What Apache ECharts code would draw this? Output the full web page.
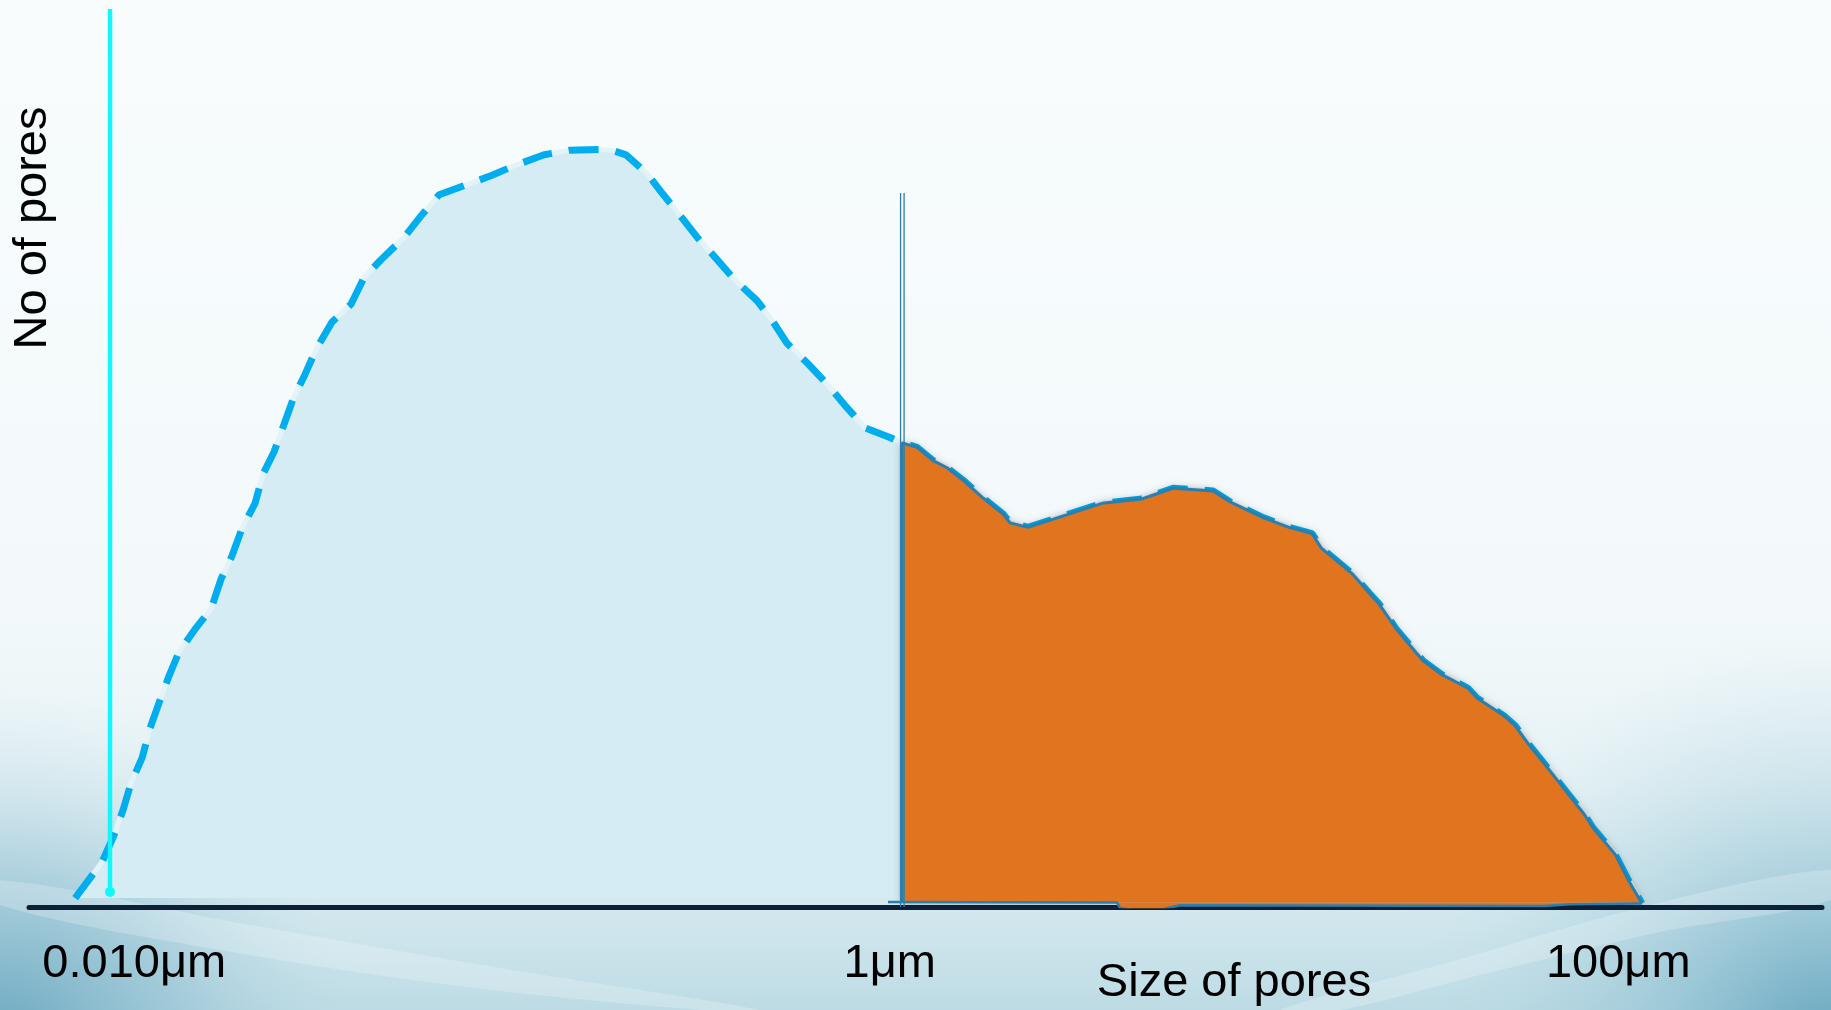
<!DOCTYPE html>
<html><head><meta charset="utf-8">
<script src="https://cdn.jsdelivr.net/npm/echarts@6/dist/echarts.min.js"></script>
<style>html,body{margin:0;padding:0;background:#f8fcfd;overflow:hidden}#c{width:1831px;height:1010px}</style>
</head><body><div id="c"></div>
<script>
// pore size (μm) along the distribution curve
const poreSize = [0.006736, 0.007961, 0.008579, 0.009073, 0.009533, 0.01021, 0.01073, 0.01134, 0.01207, 0.01284,
  0.01427, 0.01566, 0.01667, 0.01784, 0.01899, 0.02058, 0.02163, 0.02316, 0.02464, 0.02605,
  0.02806, 0.03005, 0.03319, 0.03734, 0.04049, 0.04498, 0.05189, 0.05731, 0.06449, 0.07622,
  0.0896, 0.1033, 0.1238, 0.1445, 0.1751, 0.1887, 0.2058, 0.2345, 0.2573, 0.2913,
  0.3218, 0.3642, 0.4048, 0.464, 0.5093, 0.5591, 0.6368, 0.7211, 0.8014, 0.9072,
  1.059, 1.141, 1.253, 1.384, 1.509, 1.667, 1.887, 2.136, 2.231, 2.495,
  3.95, 5.062, 6.136, 7.864, 8.795, 10.73, 12.6, 14.54, 15.38, 18.64,
  20.84, 22.03, 24.48, 28.95, 32.37, 38.28, 40.48, 47.86, 51.26, 56.25,
  62.91, 70.36, 78.66, 83.18, 95.33, 103.9, 112.7];
// number of pores (relative units)
const poreCount = [0, 4.05, 7.09, 9.91, 12.95, 15.77, 19.14, 21.96, 25.0, 27.7,
  30.4, 32.5, 35.9, 38.5, 41.6, 44.4, 47.7, 50.2, 53.3, 56.1,
  58.9, 61.7, 64.8, 66.8, 69.8, 71.8, 74.3, 76.6, 79.1, 80.2,
  81.3, 82.4, 83.6, 84.1, 84.2, 84.1, 83.6, 81.5, 79.3, 76.5,
  74.2, 71.7, 69.5, 67.2, 65.0, 62.4, 60.1, 57.7, 55.4, 52.9,
  51.8, 51.2, 50.7, 49.2, 48.4, 47.0, 45.0, 43.2, 42.2, 41.7,
  44.4, 44.9, 46.1, 45.8, 44.5, 42.8, 41.7, 41.0, 39.4, 36.5,
  34.2, 33.1, 30.3, 26.7, 25.2, 23.6, 22.5, 20.5, 19.4, 17.1,
  14.6, 12.0, 9.46, 7.88, 4.95, 1.91, -0.6];
// start of the highlighted (large pore) region
const splitSize = 1.141;
const splitBase = -0.5;
// bottom edge of the highlighted region
const baseSize = [1.046, 4.335, 4.416, 5.287, 6.408, 61.37, 72.11, 112.7];
const baseCount = [-0.45, -0.5, -1.1, -1.6, -0.8, -0.9, -0.7, -0.6];
// cyan marker line
const cyanSize = 0.008366;
const cyanCount = [100, 0.7];
// double marker line
const markerSizes = [1.131, 1.156];
const markerCount = [79.3, -1];
// tick labels by decade
const tickDecades = [-2, 0, 2];
const tickLabels = ['0.010μm', '1μm', '100μm'];
const tickRich = ['l', 'r', 'l'];
const xName = 'Size of pores';
const yName = 'No of pores';

const FONT = 'Liberation Sans, Arial, sans-serif';
const FS = 47;
const curve = poreSize.map((s, i) => [s, poreCount[i]]);
const orange = [[splitSize, splitBase]].concat(curve.filter(p => p[0] >= splitSize));
const base = baseSize.map((s, i) => [s, baseCount[i]]);

const chart = echarts.init(document.getElementById('c'), null, {renderer: 'canvas'});
const W = 1831, H = 1010;
chart.setOption({
  animation: false,
  backgroundColor: 'transparent',
  graphic: {elements: [
    {type: 'rect', z: -100, silent: true, shape: {x: 0, y: 0, width: W, height: H},
     style: {fill: {type: 'linear', x: 0, y: 0, x2: 0, y2: 1, colorStops: [
       {offset: 0, color: '#f8fcfd'}, {offset: 0.6, color: '#f3f9fb'}, {offset: 0.78, color: '#e6f2f5'},
       {offset: 0.9, color: '#d3e8ee'}, {offset: 1, color: '#bddbe4'}]}}},
    {type: 'rect', z: -99, silent: true, shape: {x: 0, y: 0, width: W, height: H},
     style: {fill: {type: 'radial', x: 0, y: H + 40, r: 360, global: true, colorStops: [
       {offset: 0, color: 'rgba(95,160,186,0.9)'}, {offset: 0.5, color: 'rgba(125,180,202,0.45)'},
       {offset: 1, color: 'rgba(190,220,232,0)'}]}}},
    {type: 'rect', z: -99, silent: true, shape: {x: 0, y: 0, width: W, height: H},
     style: {fill: {type: 'radial', x: W, y: H + 40, r: 420, global: true, colorStops: [
       {offset: 0, color: 'rgba(90,158,186,0.9)'}, {offset: 0.45, color: 'rgba(130,185,205,0.45)'},
       {offset: 1, color: 'rgba(190,220,232,0)'}]}}},
    {type: 'polygon', z: -98, silent: true,
     shape: {points: [[0, 880], [250, 925], [500, 968], [760, 1010], [700, 1010], [450, 985], [220, 950], [0, 905]], smooth: 0.3},
     style: {fill: 'rgba(255,255,255,0.22)'}},
    {type: 'polygon', z: -98, silent: true,
     shape: {points: [[1280, 1010], [1450, 962], [1650, 905], [1831, 870], [1831, 900], [1660, 932], [1480, 975], [1340, 1010]], smooth: 0.3},
     style: {fill: 'rgba(255,255,255,0.22)'}},
    {type: 'text', z: 50, x: 33, y: 228, rotation: Math.PI / 2,
     style: {text: yName, fontSize: FS, fontFamily: FONT, fill: '#000', align: 'center', verticalAlign: 'middle'}}
  ]},
  grid: {left: 29, right: 9, top: 9, bottom: 103, containLabel: false, outerBoundsMode: 'none'},
  xAxis: {
    type: 'log', logBase: 10, min: 0.00506, max: 344.5,
    axisLine: {show: true, onZero: false, lineStyle: {color: '#0c2038', width: 5, cap: 'round'}},
    axisTick: {show: false}, splitLine: {show: false}, minorTick: {show: false},
    axisLabel: {
      show: true, margin: 34, fontSize: FS, fontFamily: FONT, color: '#000',
      showMinLabel: false, showMaxLabel: false,
      formatter: function (v) {
        const L = Math.log10(v), k = Math.round(L);
        if (Math.abs(L - k) > 0.01) return '';
        const i = tickDecades.indexOf(k);
        if (i < 0) return '';
        return '{' + tickRich[i] + '|' + tickLabels[i] + '}';
      },
      rich: {
        l: {fontSize: FS, fontFamily: FONT, color: '#000', padding: [0, 9, 0, 0]},
        r: {fontSize: FS, fontFamily: FONT, color: '#000', padding: [0, 0, 0, 18]}
      }
    },
    name: xName, nameLocation: 'middle', nameGap: 53, nameMoveOverlap: false,
    nameTextStyle: {fontSize: FS, fontFamily: FONT, color: '#000', padding: [0, 0, 0, 617]}
  },
  yAxis: {type: 'value', min: -1, max: 100, show: false, splitLine: {show: false}},
  series: [
    {type: 'line', name: 'fill', data: curve, z: 2, symbol: 'none', smooth: false,
     lineStyle: {color: '#e4f3f8', width: 5},
     areaStyle: {color: '#d5ecf4', opacity: 1, origin: 0}},
    {type: 'line', name: 'dashed', data: curve, z: 3, symbol: 'none', smooth: false,
     lineStyle: {color: '#00adee', width: 7, type: [30, 17], cap: 'butt'}},
    {type: 'line', name: 'cyan', z: 4, smooth: false,
     data: [{value: [cyanSize, cyanCount[0]], symbol: 'none'},
            {value: [cyanSize, cyanCount[1]], symbol: 'circle', symbolSize: 10}],
     showSymbol: true, showAllSymbol: true,
     itemStyle: {color: '#12f7fb'},
     lineStyle: {color: '#12f7fb', width: 4.5}},
    {type: 'line', name: 'large pores', data: orange, z: 5, symbol: 'none', smooth: false,
     lineStyle: {color: '#2a7fae', width: 3},
     areaStyle: {color: '#e1741e', opacity: 1, origin: splitBase,
                 shadowBlur: 8, shadowColor: 'rgba(0,0,0,0.35)'}},
    {type: 'line', name: 'base', data: base, z: 6, symbol: 'none', smooth: false,
     lineStyle: {color: '#2a7fae', width: 2.5},
     areaStyle: {color: '#e1741e', opacity: 1, origin: splitBase}},
    {type: 'line', name: 'm1', z: 7, symbol: 'none',
     data: [[markerSizes[0], markerCount[0]], [markerSizes[0], markerCount[1]]],
     lineStyle: {color: '#2f7ea8', width: 1.3}},
    {type: 'line', name: 'm2', z: 7, symbol: 'none',
     data: [[markerSizes[1], markerCount[0]], [markerSizes[1], markerCount[1]]],
     lineStyle: {color: '#2f7ea8', width: 1.3}}
  ]
});
</script></body></html>
